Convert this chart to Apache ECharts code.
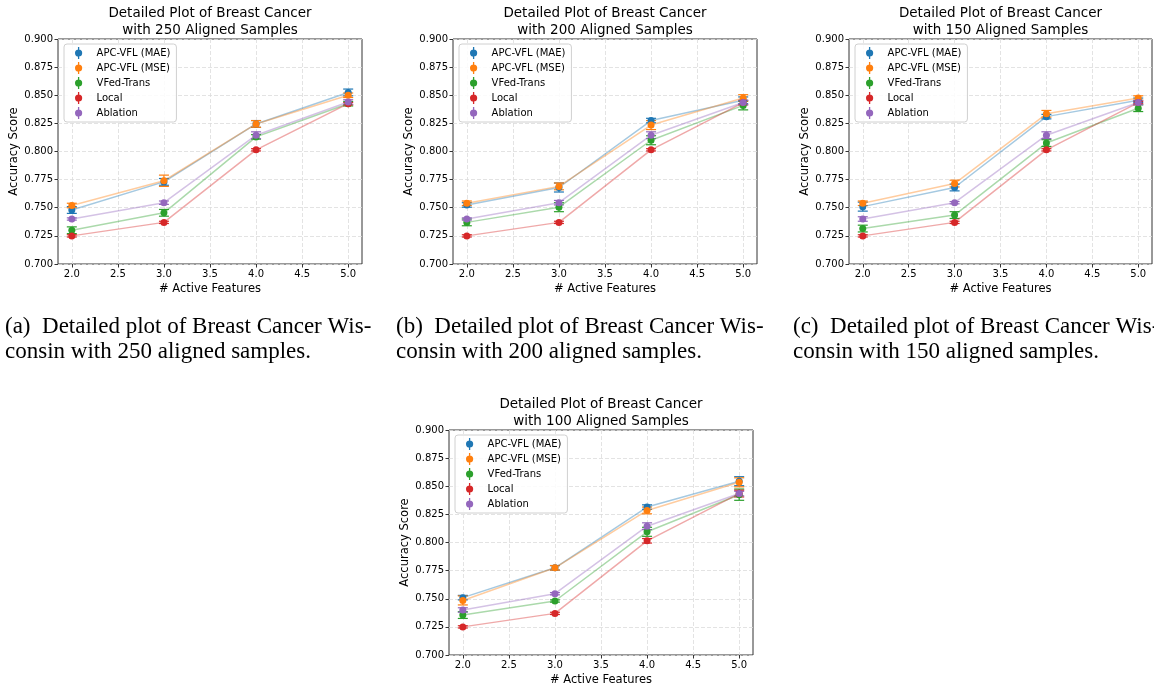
<!DOCTYPE html>
<html>
<head>
<meta charset="utf-8">
<script src="https://cdn.jsdelivr.net/npm/echarts@6/dist/echarts.min.js"></script>
<style>
  html, body { margin: 0; padding: 0; background: #fff; }
  #chart { width: 1154px; height: 690px; }
</style>
</head>
<body>
<div id="chart"></div>
<script>
// active feature counts on the x axis
const features = [2, 3, 4, 5]
const xTicks = [2.0, 2.5, 3.0, 3.5, 4.0, 4.5, 5.0]
const methods = ['APC-VFL (MAE)', 'APC-VFL (MSE)', 'VFed-Trans', 'Local', 'Ablation']
const sampleSizes = [250, 200, 150, 100]
const captionTags = ['(a)', '(b)', '(c)', null]

// mean accuracy, one array per method and sample size
const mae250 = [0.748, 0.773, 0.8245, 0.8525]
const mse250 = [0.752, 0.774, 0.8245, 0.850]
const vfed250 = [0.730, 0.7455, 0.813, 0.8425]
const local250 = [0.725, 0.737, 0.8015, 0.8425]
const abl250 = [0.740, 0.7545, 0.8145, 0.844]

const mae200 = [0.7525, 0.768, 0.8275, 0.8455]
const mse200 = [0.754, 0.769, 0.8235, 0.8475]
const vfed200 = [0.737, 0.7505, 0.810, 0.841]
const local200 = [0.725, 0.737, 0.8015, 0.8435]
const abl200 = [0.740, 0.7545, 0.8145, 0.8435]

const mae150 = [0.751, 0.768, 0.831, 0.8455]
const mse150 = [0.754, 0.7715, 0.8335, 0.8475]
const vfed150 = [0.7315, 0.7435, 0.8075, 0.8385]
const local150 = [0.725, 0.737, 0.8015, 0.8435]
const abl150 = [0.740, 0.7545, 0.8145, 0.8435]

const mae100 = [0.751, 0.7775, 0.8315, 0.8545]
const mse100 = [0.7485, 0.7775, 0.8285, 0.8535]
const vfed100 = [0.7355, 0.748, 0.8095, 0.8425]
const local100 = [0.725, 0.737, 0.8015, 0.8435]
const abl100 = [0.740, 0.7545, 0.8145, 0.8435]

// error bar half-widths (std)
const maeErr250 = [0.003, 0.003, 0.003, 0.003]
const mseErr250 = [0.002, 0.005, 0.003, 0.002]
const vfedErr250 = [0.003, 0.003, 0.002, 0.002]
const localErr250 = [0.001, 0.001, 0.001, 0.001]
const ablErr250 = [0.001, 0.0015, 0.003, 0.002]

const maeErr200 = [0.002, 0.004, 0.002, 0.003]
const mseErr200 = [0.002, 0.003, 0.004, 0.003]
const vfedErr200 = [0.003, 0.004, 0.004, 0.004]
const localErr200 = [0.001, 0.001, 0.001, 0.002]
const ablErr200 = [0.001, 0.002, 0.003, 0.002]

const maeErr150 = [0.004, 0.003, 0.002, 0.002]
const mseErr150 = [0.002, 0.003, 0.003, 0.002]
const vfedErr150 = [0.003, 0.003, 0.003, 0.003]
const localErr150 = [0.001, 0.001, 0.001, 0.001]
const ablErr150 = [0.002, 0.001, 0.003, 0.002]

const maeErr100 = [0.002, 0.002, 0.002, 0.004]
const mseErr100 = [0.004, 0.002, 0.003, 0.004]
const vfedErr100 = [0.003, 0.001, 0.004, 0.005]
const localErr100 = [0.001, 0.001, 0.002, 0.003]
const ablErr100 = [0.002, 0.001, 0.003, 0.002]

const means = [
  [mae250, mse250, vfed250, local250, abl250],
  [mae200, mse200, vfed200, local200, abl200],
  [mae150, mse150, vfed150, local150, abl150],
  [mae100, mse100, vfed100, local100, abl100]
]
const errs = [
  [maeErr250, mseErr250, vfedErr250, localErr250, ablErr250],
  [maeErr200, mseErr200, vfedErr200, localErr200, ablErr200],
  [maeErr150, mseErr150, vfedErr150, localErr150, ablErr150],
  [maeErr100, mseErr100, vfedErr100, localErr100, ablErr100]
]

const colors = ['#1f77b4', '#ff7f0e', '#2ca02c', '#d62728', '#9467bd']
const sans = 'DejaVu Sans'

// panel boxes in px
const panels = [
  {left: 58, top: 39, width: 304, height: 225, capLeft: 5},
  {left: 453, top: 39, width: 304, height: 225, capLeft: 396},
  {left: 849, top: 39, width: 303, height: 225, capLeft: 793},
  {left: 449, top: 430, width: 304, height: 225}
]

// errorbar handle like matplotlib's legend
const errIcon = 'path://M5.35,0H6.65V12H5.35Z M6,2.4A3.6,3.6,0,1,1,5.99,2.4Z'

let chart = echarts.init(document.getElementById('chart'))

let grid = [], xAxis = [], yAxis = [], title = [], legend = [], series = [], graphic = []

panels.forEach((p, i) => {
  grid.push({left: p.left, top: p.top, width: p.width, height: p.height,
    show: true, borderColor: '#333', borderWidth: 1, backgroundColor: 'transparent'})
  xAxis.push({
    gridIndex: i, type: 'value', min: 1.85, max: 5.15,
    name: '# Active Features', nameLocation: 'middle', nameGap: 19,
    nameTextStyle: {fontFamily: sans, fontSize: 11.5, color: '#000'},
    axisLine: {show: false},
    axisTick: {show: true, inside: false, length: 3.5, customValues: xTicks, lineStyle: {color: '#333'}},
    axisLabel: {customValues: xTicks, margin: 5, fontFamily: sans, fontSize: 10, color: '#000',
      formatter: v => v.toFixed(1)},
    splitLine: {show: true, lineStyle: {color: '#dcdcdc', type: [4, 2], width: 0.8}}
  })
  yAxis.push({
    gridIndex: i, type: 'value', min: 0.7, max: 0.9, interval: 0.025,
    name: 'Accuracy Score', nameLocation: 'middle', nameGap: 38, nameRotate: 90,
    nameTextStyle: {fontFamily: sans, fontSize: 11.5, color: '#000'},
    axisLine: {show: false},
    axisTick: {show: true, inside: false, length: 3.5, lineStyle: {color: '#333'}},
    axisLabel: {margin: 5, fontFamily: sans, fontSize: 10, color: '#000',
      formatter: v => v.toFixed(3)},
    splitLine: {show: true, lineStyle: {color: '#dcdcdc', type: [4, 2], width: 0.8}}
  })
  title.push({
    text: 'Detailed Plot of Breast Cancer\nwith ' + sampleSizes[i] + ' Aligned Samples',
    left: p.left + p.width / 2, top: p.top - 34.5, textAlign: 'center', padding: 0,
    textStyle: {fontFamily: sans, fontSize: 13.5, fontWeight: 'normal', color: '#000', lineHeight: 17}
  })
  legend.push({
    data: methods, orient: 'vertical', left: p.left + 6, top: p.top + 5,
    icon: errIcon, itemWidth: 12, itemHeight: 12, itemGap: 3,
    padding: [3, 6, 3, 11], selectedMode: false,
    borderColor: '#d0d0d0', borderWidth: 1, borderRadius: 3,
    backgroundColor: 'rgba(255,255,255,0.85)',
    textStyle: {fontFamily: sans, fontSize: 10, color: '#000', padding: [0, 0, 0, 7]}
  })

  methods.forEach((m, k) => {
    let pts = features.map((f, j) => [f, means[i][k][j], errs[i][k][j]])
    series.push({
      name: m, type: 'custom', xAxisIndex: i, yAxisIndex: i,
      data: pts, encode: {x: 0, y: 1}, itemStyle: {color: colors[k]}, z: 2,
      renderItem: (params, api) => {
        let x = api.value(0), y = api.value(1), e = api.value(2)
        let lo = api.coord([x, y - e]), hi = api.coord([x, y + e])
        let st = {stroke: colors[k], lineWidth: 1.2}
        return {type: 'group', children: [
          {type: 'line', shape: {x1: lo[0], y1: lo[1], x2: hi[0], y2: hi[1]}, style: st},
          {type: 'line', shape: {x1: lo[0] - 5, y1: lo[1], x2: lo[0] + 5, y2: lo[1]}, style: st},
          {type: 'line', shape: {x1: hi[0] - 5, y1: hi[1], x2: hi[0] + 5, y2: hi[1]}, style: st}
        ]}
      }
    })
    series.push({
      name: m, type: 'line', xAxisIndex: i, yAxisIndex: i,
      data: pts.map(d => [d[0], d[1]]), z: 3,
      symbol: 'circle', symbolSize: 7, showSymbol: true,
      itemStyle: {color: colors[k], borderWidth: 0},
      lineStyle: {color: colors[k], width: 1.5, opacity: 0.4}
    })
  })

  if (captionTags[i]) {
    graphic.push({
      type: 'text', left: p.capLeft, top: 314,
      style: {
        text: captionTags[i] + '\u2002Detailed plot of Breast Cancer Wis-\nconsin with ' + sampleSizes[i] + ' aligned samples.',
        font: '23px "Liberation Serif"', fill: '#000', lineHeight: 25
      }
    })
  }
})

chart.setOption({
  animation: false,
  backgroundColor: '#fff',
  grid, xAxis, yAxis, title, legend, series, graphic
})
</script>
</body>
</html>
